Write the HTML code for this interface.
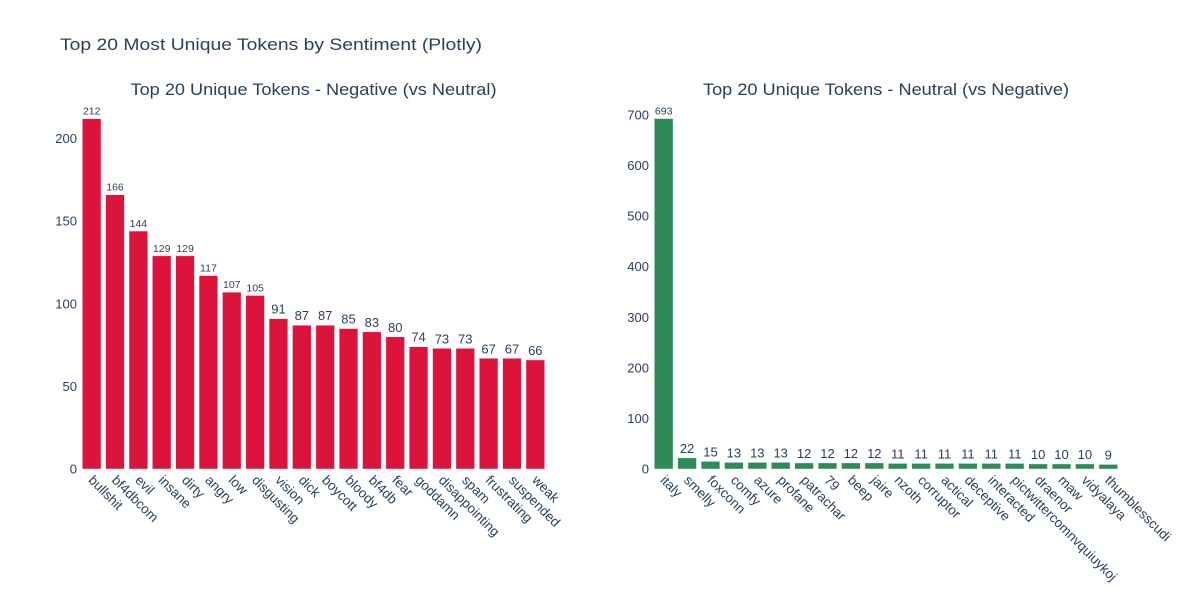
<!DOCTYPE html>
<html><head><meta charset="utf-8"><style>
body{margin:0;background:#fff;font-family:"Liberation Sans",sans-serif}
svg text{font-family:"Liberation Sans",sans-serif;fill:#2a3f5f}
</style></head><body>
<svg id="c" width="1200" height="600">
<text x="60" y="50" font-size="17" textLength="422" lengthAdjust="spacingAndGlyphs">Top 20 Most Unique Tokens by Sentiment (Plotly)</text>
</svg>
<script>
const negCats=["bullshit","bf4dbcom","evil","insane","dirty","angry","low","disgusting","vision","dick","boycott","bloody","bf4db","fear","goddamn","disappointing","spam","frustrating","suspended","weak"];
const negVals=[212,166,144,129,129,117,107,105,91,87,87,85,83,80,74,73,73,67,67,66];
const negTicks=[0,50,100,150,200];
const neuCats=["italy","smelly","foxconn","comfy","azure","profane","patrachar","79","beep","jaire","nzoth","corruptor","actical","deceptive","interacted","pictwittercomnvquiuykoj","draenor","maw","vidyalaya","thumblesscudi"];
const neuVals=[693,22,15,13,13,13,12,12,12,12,11,11,11,11,11,11,10,10,10,9];
const neuTicks=[0,100,200,300,400,500,600,700];
const svg=document.getElementById('c');
const NS='http://www.w3.org/2000/svg';
function mk(t,a,p){const e=document.createElementNS(NS,t);for(const k in a)e.setAttribute(k,a[k]);(p||svg).appendChild(e);return e;}
function panel(opt){
  const g=mk('g',{});
  
  
  const x0=opt.x0,x1=opt.x1,y0=469,yTop=opt.yTop;
  const y=v=>y0-(v/opt.max)*(y0-yTop);
  const pitch=(x1-x0)/opt.cats.length;
  const t=mk('text',{x:(x0+x1)/2,y:95,'font-size':17,'text-anchor':'middle',textLength:opt.titleLen,lengthAdjust:'spacingAndGlyphs'},g);
  t.textContent=opt.title;
  
  
  opt.ticks.forEach(v=>{
    const l=mk('text',{x:x0-3,y:y(v)+4.5,'font-size':13,'text-anchor':'end'},g);
    l.textContent=v;
    
    
  });
  opt.cats.forEach((c,i)=>{
    const v=opt.vals[i];
    const cx=x0+pitch*(i+0.5),w=pitch*0.8;
    const r=mk('rect',{x:cx-w/2,y:y(v),width:w,height:y0-y(v),fill:opt.color,stroke:'#e5ecf6','stroke-width':0.5},g);
    
    
    const small=String(v).length>2;
    const vl=mk('text',{x:cx,y:y(v)-(small?4:5),'font-size':small?10.5:13,'text-anchor':'middle'},g);
    vl.textContent=v;
    
    
    const tl=mk('text',{x:cx-4,y:y0+12,'font-size':13.5,transform:`rotate(45 ${cx-4} ${y0+12})`},g);
    tl.textContent=c;
    
    
  });
}
panel({name:'negative-panel',title:'Top 20 Unique Tokens - Negative (vs Neutral)',titleLen:366,cats:negCats,vals:negVals,ticks:negTicks,max:200,yTop:138.5,x0:80,x1:547,color:'#dc143c'});
panel({name:'neutral-panel',title:'Top 20 Unique Tokens - Neutral (vs Negative)',titleLen:366,cats:neuCats,vals:neuVals,ticks:neuTicks,max:700,yTop:115,x0:652,x1:1120,color:'#2e8b57'});
</script>
</body></html>
